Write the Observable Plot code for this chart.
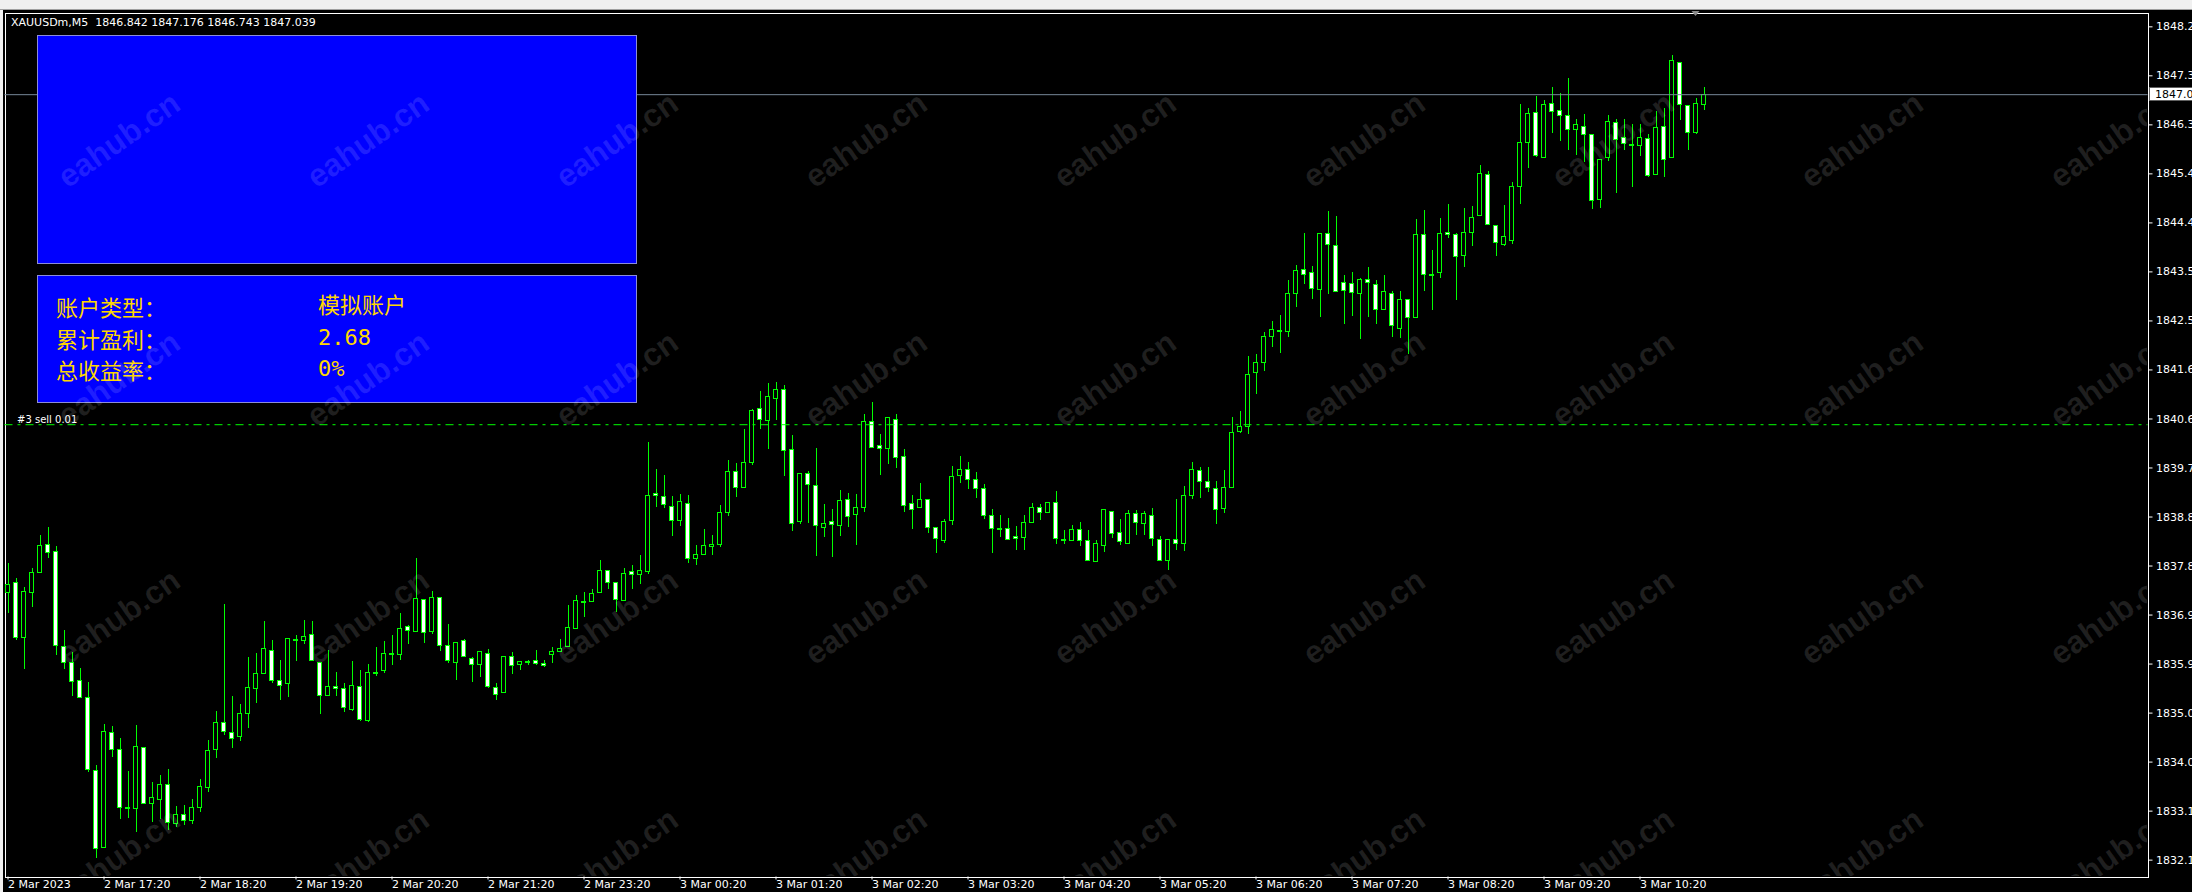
<!DOCTYPE html>
<html>
<head>
<meta charset="utf-8">
<script src="https://cdn.jsdelivr.net/npm/d3@7"></script>
<script src="https://cdn.jsdelivr.net/npm/@observablehq/plot@0.6"></script>
<style>
html, body { margin: 0; padding: 0; }
body { width: 2192px; height: 892px; overflow: hidden; background: #f0f0f0; position: relative; font-family: "DejaVu Sans", sans-serif; }
#topbar { position: absolute; left: 0; top: 0; width: 2192px; height: 9px; background: #f0f0f0; border-bottom: 1px solid #a0a0a0; }
#chart { position: absolute; left: 3px; top: 10px; }
#chart svg { display: block; }
.panel { position: absolute; background: #0000ff; border: 1px solid #8c8cd8; box-sizing: border-box; }
.cell { position: absolute; font-family: "DejaVu Sans Mono", "Noto Sans CJK SC", sans-serif; font-size: 22px; line-height: 24px; color: #FFD700; white-space: pre; }
.cell.lab { font-family: "Noto Sans CJK SC", sans-serif; }
#wm { position: absolute; left: 5px; top: 13px; width: 2142px; height: 863px; overflow: hidden; pointer-events: none; }
.wm { position: absolute; transform: translate(-50%, -50%) rotate(-35deg); font-family: "Liberation Sans", sans-serif; font-weight: bold; font-size: 32px; color: rgba(255,255,255,0.12); white-space: nowrap; }
</style>
</head>
<body>
<div id="topbar"></div>
<div id="chart"></div>
<div id="panels"></div>
<div id="wm"></div>
<script>
// ---------- data (XAUUSDm, M5 bars, index 0 = 2 Mar 16:20) ----------
const symbolText = "XAUUSDm,M5  1846.842 1847.176 1846.743 1847.039";
const bidPrice = 1847.039;
const sellPrice = 1840.68;
const sellLabel = "#3 sell 0.01";

const opens = [
1837.44,1837.63,1836.57,1837.44,1837.83,1838.37,1838.23,1836.40,1836.09,1835.74,
1835.42,1834.01,1832.53,1834.74,1834.42,1833.29,1833.28,1834.45,1833.37,1833.45,
1833.74,1832.99,1833.16,1833.05,1833.30,1833.68,1834.42,1834.94,1834.74,1834.66,
1835.10,1835.59,1835.87,1836.32,1835.75,1835.68,1836.54,1836.51,1836.63,1836.09,
1835.46,1835.63,1835.59,1835.18,1835.63,1834.97,1835.90,1835.93,1836.26,1836.25,
1836.79,1836.68,1837.31,1836.68,1837.34,1836.42,1836.09,1836.51,1836.17,1836.05,
1836.27,1835.60,1835.51,1836.21,1836.05,1836.11,1836.12,1836.07,1836.24,1836.30,
1836.39,1836.74,1837.26,1837.26,1837.43,1837.86,1837.63,1837.28,1837.85,1837.79,
1837.85,1839.35,1839.29,1839.10,1838.82,1839.16,1838.10,1838.17,1838.33,1838.37,
1838.98,1839.77,1839.46,1839.95,1840.99,1840.76,1841.18,1841.35,1840.20,1838.80,
1839.73,1839.50,1838.69,1838.81,1838.73,1839.23,1838.94,1839.07,1840.74,1840.27,
1840.21,1840.77,1840.06,1839.16,1839.08,1839.23,1838.69,1838.44,1838.82,1839.70,
1839.81,1839.62,1839.44,1838.92,1838.67,1838.67,1838.52,1838.49,1838.79,1839.08,
1838.98,1839.17,1838.46,1838.44,1838.65,1838.44,1838.03,1838.34,1839.00,1838.60,
1838.38,1838.96,1838.77,1838.92,1838.46,1838.05,1838.46,1838.38,1839.31,1839.79,
1839.58,1839.44,1839.06,1839.46,1840.54,1840.64,1841.67,1841.87,1842.37,1842.48,
1842.46,1843.20,1843.66,1843.61,1843.28,1844.36,1844.13,1843.41,1843.39,1843.20,
1843.47,1843.38,1842.89,1843.20,1842.53,1843.09,1842.74,1844.34,1843.57,1843.60,
1844.38,1844.34,1843.93,1844.37,1844.70,1845.50,1844.51,1844.14,1844.22,1845.26,
1846.10,1846.69,1845.82,1846.86,1846.73,1846.63,1846.36,1846.42,1846.27,1845.01,
1845.82,1846.50,1846.21,1846.07,1846.05,1846.18,1845.49,1846.42,1845.82,1847.65,
1846.82,1846.30,1846.842];

const highs = [
1838.00,1837.71,1837.54,1837.90,1838.55,1838.69,1838.33,1836.71,1836.30,1835.98,
1835.71,1834.11,1834.90,1834.86,1834.63,1833.99,1834.88,1834.45,1833.78,1833.93,
1834.03,1833.32,1833.35,1833.45,1833.85,1834.59,1835.15,1837.21,1835.44,1835.28,
1836.19,1836.27,1836.88,1836.52,1836.13,1836.55,1836.62,1836.91,1836.88,1836.09,
1836.32,1835.91,1835.69,1836.12,1835.94,1836.06,1836.39,1836.50,1836.62,1837.04,
1836.81,1838.10,1837.31,1837.47,1837.34,1836.84,1836.48,1836.55,1836.20,1836.30,
1836.34,1835.69,1836.21,1836.30,1836.12,1836.13,1836.33,1836.14,1836.38,1836.54,
1837.20,1837.39,1837.45,1837.50,1838.06,1837.86,1837.63,1837.90,1837.97,1838.16,
1840.34,1839.82,1839.70,1839.29,1839.34,1839.32,1838.35,1838.66,1838.55,1839.12,
1839.99,1839.93,1840.59,1840.97,1841.32,1841.47,1841.49,1841.43,1840.47,1839.73,
1839.77,1840.22,1839.14,1839.05,1839.42,1839.35,1839.33,1840.88,1841.11,1840.49,
1840.82,1840.88,1840.20,1839.32,1839.55,1839.23,1838.69,1838.85,1839.88,1840.07,
1839.95,1839.76,1839.52,1839.04,1838.94,1838.87,1838.71,1838.94,1839.16,1839.14,
1839.17,1839.39,1838.64,1838.74,1838.80,1838.64,1838.45,1839.04,1839.00,1838.85,
1839.02,1839.02,1839.00,1839.06,1838.52,1838.46,1839.23,1839.48,1839.95,1839.85,
1839.85,1839.59,1839.80,1840.82,1840.93,1841.99,1842.03,1842.45,1842.66,1842.78,
1843.46,1843.75,1844.36,1843.72,1844.36,1844.78,1844.70,1843.55,1843.61,1843.49,
1843.70,1843.46,1843.55,1843.24,1843.25,1843.09,1844.63,1844.81,1844.04,1844.65,
1844.92,1844.36,1844.84,1844.88,1845.67,1845.55,1844.51,1844.90,1845.34,1846.85,
1846.77,1847.00,1846.93,1847.18,1847.06,1847.35,1846.57,1846.66,1846.27,1845.78,
1846.63,1846.57,1846.57,1846.46,1846.46,1846.28,1846.71,1846.77,1847.79,1847.65,
1846.82,1846.96,1847.176];

const lows = [
1837.05,1836.53,1835.96,1837.16,1837.83,1838.11,1836.23,1835.97,1835.45,1835.40,
1833.98,1832.32,1832.53,1834.26,1833.08,1833.10,1832.83,1833.37,1833.02,1833.07,
1832.87,1832.91,1832.95,1832.98,1833.20,1833.60,1834.25,1834.70,1834.45,1834.58,
1834.83,1835.30,1835.87,1835.70,1835.37,1835.43,1836.12,1836.45,1836.11,1835.10,
1835.45,1835.45,1835.14,1835.16,1834.97,1834.95,1835.82,1835.89,1836.04,1836.14,
1836.45,1836.67,1836.46,1836.64,1836.31,1836.07,1835.76,1836.20,1835.72,1835.80,
1835.60,1835.37,1835.51,1835.87,1835.94,1836.04,1836.04,1836.00,1836.07,1836.30,
1836.39,1836.74,1836.97,1837.26,1837.43,1837.51,1837.07,1837.28,1837.51,1837.61,
1837.80,1839.09,1839.07,1838.53,1838.71,1838.00,1837.97,1838.17,1838.16,1838.32,
1838.92,1839.28,1839.46,1839.89,1840.59,1840.21,1840.76,1839.69,1838.63,1838.76,
1838.78,1838.15,1838.50,1838.13,1838.53,1838.69,1838.36,1838.98,1840.23,1839.71,
1839.92,1839.84,1838.99,1838.67,1839.06,1838.59,1838.19,1838.40,1838.73,1839.55,
1839.44,1839.25,1838.85,1838.19,1838.51,1838.44,1838.26,1838.26,1838.77,1838.83,
1838.98,1838.38,1838.38,1838.44,1838.34,1838.05,1838.03,1838.21,1838.48,1838.36,
1838.38,1838.55,1838.55,1838.34,1838.06,1837.88,1838.26,1838.24,1839.23,1839.25,
1839.37,1838.76,1838.96,1839.46,1840.52,1840.49,1841.27,1841.71,1842.16,1842.06,
1842.37,1842.94,1843.39,1843.10,1842.75,1843.18,1843.23,1842.62,1842.77,1842.33,
1842.75,1842.62,1842.89,1842.37,1842.35,1842.03,1842.74,1843.25,1842.89,1843.50,
1844.26,1843.08,1843.70,1844.12,1844.70,1844.52,1843.93,1844.12,1844.16,1844.93,
1845.62,1845.82,1845.82,1846.30,1846.14,1845.97,1845.87,1845.74,1844.83,1844.85,
1845.75,1845.14,1845.96,1845.26,1845.85,1845.45,1845.49,1845.44,1845.82,1846.54,
1845.96,1846.28,1846.743];

const closes = [
1837.60,1836.57,1837.46,1837.83,1838.35,1838.21,1836.42,1836.09,1835.73,1835.42,
1834.03,1832.51,1834.76,1834.42,1833.30,1833.29,1834.47,1833.37,1833.49,1833.74,
1833.01,1833.16,1833.05,1833.30,1833.70,1834.40,1834.94,1834.76,1834.63,1835.11,
1835.61,1835.88,1836.36,1835.74,1835.65,1836.55,1836.54,1836.59,1836.13,1835.46,
1835.63,1835.58,1835.22,1835.65,1834.99,1835.90,1835.90,1836.27,1836.26,1836.75,
1836.71,1837.33,1836.67,1837.34,1836.42,1836.13,1836.48,1836.21,1836.05,1836.30,
1835.63,1835.48,1836.21,1836.03,1836.11,1836.11,1836.07,1836.04,1836.30,1836.36,
1836.77,1837.29,1837.26,1837.42,1837.86,1837.63,1837.31,1837.81,1837.79,1837.86,
1839.31,1839.30,1839.14,1838.82,1839.19,1838.10,1838.17,1838.34,1838.37,1838.98,
1839.77,1839.46,1839.95,1840.95,1840.77,1841.22,1841.35,1840.18,1838.77,1839.73,
1839.52,1838.73,1838.77,1838.75,1839.21,1838.91,1839.08,1840.74,1840.23,1840.22,
1840.80,1840.04,1839.12,1839.04,1839.23,1838.69,1838.48,1838.81,1839.68,1839.81,
1839.62,1839.44,1838.92,1838.67,1838.67,1838.46,1838.48,1838.79,1839.08,1838.98,
1839.17,1838.47,1838.46,1838.65,1838.44,1838.06,1838.39,1839.04,1838.58,1838.42,
1838.96,1838.79,1838.96,1838.48,1838.06,1838.46,1838.39,1839.31,1839.81,1839.57,
1839.46,1839.04,1839.46,1840.52,1840.64,1841.64,1841.87,1842.37,1842.51,1842.48,
1843.20,1843.64,1843.57,1843.29,1844.36,1844.15,1843.24,1843.26,1843.22,1843.47,
1843.41,1842.89,1843.24,1842.59,1843.09,1842.74,1844.34,1843.57,1843.57,1844.36,
1844.34,1843.91,1844.38,1844.67,1845.51,1844.52,1844.18,1844.30,1845.26,1846.11,
1846.67,1845.85,1846.84,1846.71,1846.63,1846.36,1846.46,1846.27,1844.99,1845.78,
1846.52,1846.17,1846.09,1846.07,1846.21,1845.48,1846.40,1845.78,1847.69,1846.84,
1846.30,1846.86,1847.039];

// axis tick values and labels
const priceTicks = [1848.250, 1847.306, 1846.361, 1845.417, 1844.472, 1843.528, 1842.583, 1841.639, 1840.694,
  1839.750, 1838.805, 1837.861, 1836.916, 1835.972, 1835.027, 1834.083, 1833.138, 1832.194];
const timeTickBars = [0, 12, 24, 36, 48, 60, 72, 84, 96, 108, 120, 132, 144, 156, 168, 180, 192, 204];
const timeTickLabels = ["2 Mar 2023", "2 Mar 17:20", "2 Mar 18:20", "2 Mar 19:20", "2 Mar 20:20", "2 Mar 21:20",
  "2 Mar 23:20", "3 Mar 00:20", "3 Mar 01:20", "3 Mar 02:20", "3 Mar 03:20", "3 Mar 04:20", "3 Mar 05:20",
  "3 Mar 06:20", "3 Mar 07:20", "3 Mar 08:20", "3 Mar 09:20", "3 Mar 10:20"];

// info panel text
const panelLabels = ["账户类型：", "累计盈利：", "总收益率："];
const panelValues = ["模拟账户", "2.68", "0%"];
const watermarkText = "eahub.cn";

// ---------- chart ----------
const LIME = "#00ff00";
const bars = opens.map((o, i) => ({i, o, h: highs[i], l: lows[i], c: closes[i]}));
const bulls = bars.filter(d => d.c > d.o);
const bears = bars.filter(d => d.c < d.o);
const dojis = bars.filter(d => d.c === d.o);

const W = 2189, H = 882;
const chart = Plot.plot({
  width: W, height: H,
  marginLeft: 1.5, marginRight: 44.5, marginTop: 2.5, marginBottom: 15.5,
  style: {background: "black", color: "white", fontFamily: "DejaVu Sans", fontSize: "11px"},
  x: {type: "linear", domain: [0, 212], range: [4.5, 1700.5], label: null},
  y: {type: "linear", domain: [1848.661, 1832], range: [0, 864.7], label: null},
  marks: [
    Plot.frame({stroke: "white", shapeRendering: "crispEdges"}),
    Plot.ruleX(bars, {x: "i", y1: "l", y2: "h", stroke: LIME, strokeWidth: 1, shapeRendering: "crispEdges"}),
    Plot.rect(bulls, {x1: d => d.i - 0.25, x2: d => d.i + 0.25, y1: "o", y2: "c", fill: "black", stroke: LIME, strokeWidth: 1, shapeRendering: "crispEdges"}),
    Plot.rect(bears, {x1: d => d.i - 0.25, x2: d => d.i + 0.25, y1: "o", y2: "c", fill: "white", stroke: LIME, strokeWidth: 1, shapeRendering: "crispEdges"}),
    Plot.ruleY(dojis, {x1: d => d.i - 0.3125, x2: d => d.i + 0.3125, y: "o", stroke: LIME, strokeWidth: 2, shapeRendering: "crispEdges"}),
    Plot.ruleY([bidPrice], {stroke: "#778899", strokeWidth: 1}),
    Plot.ruleY([sellPrice], {stroke: LIME, strokeWidth: 1, strokeDasharray: "8,5,3,5"}),
    Plot.text([sellLabel], {y: () => sellPrice, frameAnchor: "left", text: d => d, dx: 12, dy: -2,
      lineAnchor: "bottom", textAnchor: "start", fill: "white", fontSize: 10, fontFamily: "DejaVu Sans"}),
    Plot.text([symbolText], {frameAnchor: "top-left", text: d => d, dx: 6, dy: 9.5, lineAnchor: "middle",
      textAnchor: "start", fill: "white", fontSize: 11, fontFamily: "DejaVu Sans"}),
    Plot.axisY({anchor: "right", ticks: priceTicks, tickFormat: d => d.toFixed(3), tickSize: 4, tickPadding: 4,
      dy: -5, fontSize: 11, label: null}),
    Plot.axisX({anchor: "bottom", ticks: timeTickBars, tickFormat: d => timeTickLabels[timeTickBars.indexOf(d)],
      tickSize: 3, tickPadding: 0, textAnchor: "start", fontSize: 11, label: null})
  ]
});
document.getElementById("chart").appendChild(chart);

// bid price box on the price axis and chart-shift marker, positioned via Plot's scales
const ys = chart.scale("y"), xs = chart.scale("x");
const svg = d3.select(chart);
const yb = Math.round(ys.apply(bidPrice)) + 0.5;
svg.append("rect").attr("x", W - 44.5 + 2).attr("y", yb - 7).attr("width", 50).attr("height", 13)
  .attr("fill", "white").attr("stroke", "#606060").attr("shape-rendering", "crispEdges");
svg.append("text").attr("x", W - 44.5 + 7.5).attr("y", yb).attr("dy", "0.35em").attr("fill", "black")
  .attr("text-anchor", "start")
  .attr("font-family", "DejaVu Sans").attr("font-size", 11).text(bidPrice.toFixed(3));
const xShift = xs.apply(211);
svg.append("path").attr("d", `M${xShift - 4},1L${xShift + 4},1L${xShift},6Z`).attr("fill", "#8a8a8a");

// ---------- info panels ----------
const panels = d3.select("#panels");
panels.append("div").attr("class", "panel")
  .style("left", "37px").style("top", "35px").style("width", "600px").style("height", "229px");
const p2 = panels.append("div").attr("class", "panel")
  .style("left", "37px").style("top", "275px").style("width", "600px").style("height", "128px");
panelLabels.forEach((t, r) => {
  p2.append("div").attr("class", "cell lab").style("left", "18px").style("top", (18 + r * 31.5) + "px").text(t);
  p2.append("div").attr("class", "cell").style("left", "280px").style("top", (18 + r * 31.5) + "px").text(panelValues[r]);
});

// ---------- watermark ----------
const wm = d3.select("#wm");
d3.range(4).forEach(r => d3.range(9).forEach(c => {
  wm.append("div").attr("class", "wm")
    .style("left", (114 + 249 * c) + "px").style("top", (127 + 238.5 * r) + "px").text(watermarkText);
}));
</script>
</body>
</html>
